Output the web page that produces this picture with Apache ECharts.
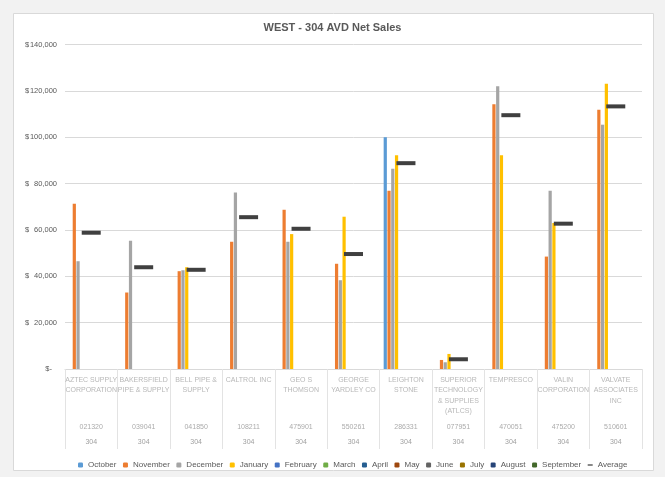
<!DOCTYPE html>
<html>
<head>
<meta charset="utf-8" />
<title>WEST - 304 AVD Net Sales</title>
<script src="https://cdn.jsdelivr.net/npm/echarts@6/dist/echarts.min.js"></script>
<style>
  html, body { margin: 0; padding: 0; background: #f2f2f2; }
  #main { width: 665px; height: 477px; }
</style>
</head>
<body>
<div id="main"></div>
<script>
// customers (x axis, three levels: name / customer no / branch)
var customers = ['AZTEC SUPPLY\nCORPORATION', 'BAKERSFIELD\nPIPE & SUPPLY', 'BELL PIPE &\nSUPPLY', 'CALTROL INC',
  'GEO S\nTHOMSON', 'GEORGE\nYARDLEY CO', 'LEIGHTON\nSTONE', 'SUPERIOR\nTECHNOLOGY\n& SUPPLIES\n(ATLCS)',
  'TEMPRESCO', 'VALIN\nCORPORATION', 'VALVATE\nASSOCIATES\nINC'];
var custCodes = ['021320', '039041', '041850', '108211', '475901', '550261', '286331', '077951', '470051', '475200', '510601'];
var branches = ['304', '304', '304', '304', '304', '304', '304', '304', '304', '304', '304'];

// monthly net sales ($), null = no sales
var octSales = [null, null, null, null, null, null, 100000, null, null, null, null];
var novSales = [71300, 33000, 42200, 54900, 68700, 45400, 76900, 3900, 114200, 48500, 111900];
var decSales = [46500, 55300, 42600, 76200, 54900, 38300, 86400, 2900, 122000, 76900, 105400];
var janSales = [null, null, 43900, null, 58200, 65700, 92200, 6500, 92200, 63000, 123100];
var avgSales = [58800, 43900, 42800, 65500, 60500, 49600, 88800, 4200, 109500, 62700, 113300];

var yTicks = [0, 20000, 40000, 60000, 80000, 100000, 120000, 140000];

var months = ['October', 'November', 'December', 'January', 'February', 'March', 'April', 'May', 'June', 'July', 'August', 'September'];
var monthColors = ['#5b9bd5', '#ed7d31', '#a5a5a5', '#ffc000', '#4472c4', '#70ad47', '#255e91', '#9e480e', '#636363', '#997300', '#264478', '#43682b'];
var monthData = [octSales, novSales, decSales, janSales, [], [], [], [], [], [], [], []];

var myChart = echarts.init(document.getElementById('main'));

var series = [];
for (var i = 0; i < months.length; i++) {
  series.push({
    name: months[i],
    type: 'bar',
    barCategoryGap: '15%',
    barGap: '17%',
    itemStyle: { color: monthColors[i] },
    data: monthData[i]
  });
}
series.push({
  name: 'Average',
  type: 'scatter',
  symbol: 'rect',
  symbolSize: [19, 4],
  symbolKeepAspect: true,
  itemStyle: { color: '#404040', opacity: 1 },
  z: 5,
  data: avgSales
});

var legendData = months.map(function (m) { return m; });
legendData.push({ name: 'Average', icon: 'path://M0,0H12V3H0Z' });

var option = {
  backgroundColor: '#f2f2f2',
  animation: false,
  graphic: {
    elements: [{
      type: 'rect',
      z: -10,
      shape: { x: 13.5, y: 13.5, width: 640, height: 457 },
      style: { fill: '#ffffff', stroke: '#d9d9d9', lineWidth: 1 }
    }]
  },
  title: {
    text: 'WEST - 304 AVD Net Sales',
    left: 'center',
    top: 17,
    textStyle: { fontFamily: 'Liberation Sans', fontSize: 11, fontWeight: 'bold', color: '#595959' }
  },
  legend: {
    data: legendData,
    left: 73,
    top: 456,
    itemWidth: 5,
    itemHeight: 5,
    itemGap: 6.5,
    textStyle: { fontFamily: 'Liberation Sans', fontSize: 8, color: '#595959' }
  },
  grid: { left: 65, right: 23, top: 44.5, bottom: 108 },
  xAxis: {
    type: 'category',
    data: customers,
    axisLine: { lineStyle: { color: '#d9d9d9' } },
    axisTick: { show: true, interval: 0, length: 80, lineStyle: { color: '#e3e3e3' } },
    axisLabel: {
      interval: 0,
      margin: 6,
      color: '#b3b3b3',
      fontFamily: 'Liberation Sans',
      fontSize: 7,
      formatter: function (value, idx) {
        var lines = value.split('\n');
        var out = [];
        for (var k = 0; k < 4; k++) {
          out.push('{n|' + (lines[k] || ' ') + '}');
        }
        out.push('{c|' + custCodes[idx] + '}');
        out.push('{d|' + branches[idx] + '}');
        return out.join('\n');
      },
      rich: {
        n: { fontFamily: 'Liberation Sans', fontSize: 7, lineHeight: 10.3, color: '#b8b8b8' },
        c: { fontFamily: 'Liberation Sans', fontSize: 7, lineHeight: 22, color: '#ababab' },
        d: { fontFamily: 'Liberation Sans', fontSize: 7, lineHeight: 8, color: '#a0a0a0' }
      }
    }
  },
  yAxis: {
    type: 'value',
    min: yTicks[0],
    max: yTicks[yTicks.length - 1],
    interval: 20000,
    axisLine: { show: false },
    axisTick: { show: false },
    splitLine: { lineStyle: { color: '#d9d9d9' } },
    axisLabel: {
      align: 'left',
      margin: 40,
      formatter: function (v) {
        if (v === 0) return '{a|}{z|$-}';
        return '{a|$}{b|' + v.toLocaleString('en-US') + '}';
      },
      rich: {
        a: { width: 5, fontFamily: 'Liberation Sans', fontSize: 7.5, color: '#595959' },
        b: { width: 27, align: 'right', fontFamily: 'Liberation Sans', fontSize: 7.5, color: '#595959' },
        z: { width: 22, align: 'right', fontFamily: 'Liberation Sans', fontSize: 7.5, color: '#595959' }
      }
    }
  },
  series: series
};
myChart.setOption(option);
</script>
</body>
</html>
